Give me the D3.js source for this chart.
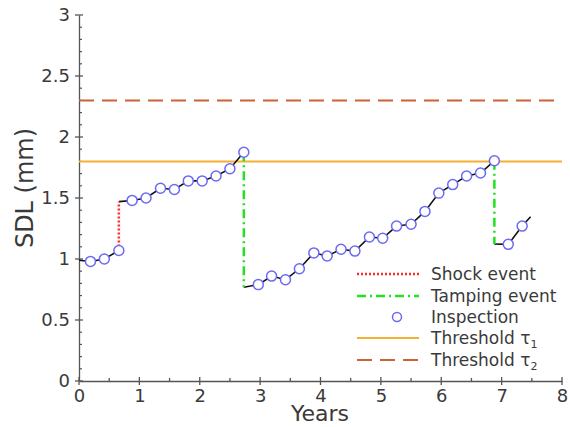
<!DOCTYPE html>
<html>
<head>
<meta charset="utf-8">
<script src="https://cdn.jsdelivr.net/npm/d3@7"></script>
<style>
  body { margin: 0; background: #fff; }
  text { font-family: "DejaVu Sans", Verdana, sans-serif; fill: #3a3a3a; }
</style>
</head>
<body>
<div class="chart-div"></div>
<script>
//--------------------------- Data

var inspYears = [0.19, 0.42, 0.66,
  0.88, 1.11, 1.35, 1.58, 1.81, 2.04, 2.27, 2.50, 2.73,
  2.97, 3.19, 3.42, 3.65, 3.89, 4.11, 4.34, 4.57, 4.81, 5.03, 5.26, 5.50,
  5.73, 5.96, 6.19, 6.42, 6.65, 6.88,
  7.11, 7.34];
var inspSDL = [0.98, 1.00, 1.07,
  1.48, 1.50, 1.58, 1.57, 1.64, 1.64, 1.68, 1.74, 1.875,
  0.79, 0.86, 0.83, 0.92, 1.05, 1.025, 1.08, 1.065, 1.18, 1.17, 1.27, 1.285,
  1.39, 1.54, 1.61, 1.68, 1.705, 1.805,
  1.12, 1.27];

// black degradation path, one piece per maintenance cycle
var pathYears = [
  [0, 0.19, 0.42, 0.66],
  [0.66, 0.88, 1.11, 1.35, 1.58, 1.81, 2.04, 2.27, 2.50, 2.73],
  [2.73, 2.97, 3.19, 3.42, 3.65, 3.89, 4.11, 4.34, 4.57, 4.81, 5.03, 5.26, 5.50, 5.73, 5.96, 6.19, 6.42, 6.65, 6.88],
  [6.88, 7.11, 7.34, 7.48]
];
var pathSDL = [
  [0.99, 0.98, 1.00, 1.07],
  [1.47, 1.48, 1.50, 1.58, 1.57, 1.64, 1.64, 1.68, 1.74, 1.875],
  [0.768, 0.79, 0.86, 0.83, 0.92, 1.05, 1.025, 1.08, 1.065, 1.18, 1.17, 1.27, 1.285, 1.39, 1.54, 1.61, 1.68, 1.705, 1.805],
  [1.123, 1.12, 1.27, 1.347]
];

var shockYear = 0.66, shockFrom = 1.07, shockTo = 1.47;
var tampYears = [2.73, 6.88];
var tampFrom = [1.875, 1.805];
var tampTo = [0.768, 1.123];

var tau1 = 1.8, tau2 = 2.3;

var xTicks = [0, 1, 2, 3, 4, 5, 6, 7, 8];
var yTicks = [0, 0.5, 1, 1.5, 2, 2.5, 3];

//--------------------------- SVG definition

var width = 570, height = 427;
var svg = d3.select("div.chart-div").append("svg")
  .attr("width", width).attr("height", height);

var x = d3.scaleLinear().domain([0, 8]).range([79, 562]);
var y = d3.scaleLinear().domain([0, 3]).range([381, 15]);

//--------------------------- Axes

var axisColor = "#555";

var xAxis = svg.append("g").attr("transform", "translate(0," + y(0) + ")");
xAxis.call(d3.axisBottom(x).tickValues(xTicks).tickSize(0).tickPadding(8).tickFormat(d3.format("d")));
xAxis.select(".domain").attr("stroke", axisColor).attr("stroke-width", 1.3);
xAxis.selectAll("text").style("font-size", "18px").attr("fill", "#3a3a3a");
// major ticks cross the axis, minor ticks sit inside
xAxis.selectAll(".maj").data(xTicks).enter().append("line")
  .attr("x1", d => x(d)).attr("x2", d => x(d)).attr("y1", -4).attr("y2", 4)
  .attr("stroke", axisColor).attr("stroke-width", 1.3);
xAxis.selectAll(".min").data(d3.range(0.5, 8, 1)).enter().append("line")
  .attr("x1", d => x(d)).attr("x2", d => x(d)).attr("y1", -3).attr("y2", 0)
  .attr("stroke", axisColor).attr("stroke-width", 1.3);

var yAxis = svg.append("g").attr("transform", "translate(" + x(0) + ",0)");
yAxis.call(d3.axisLeft(y).tickValues(yTicks).tickSize(0).tickPadding(9).tickFormat(d => d));
yAxis.select(".domain").attr("stroke", axisColor).attr("stroke-width", 1.3);
yAxis.selectAll("text").style("font-size", "18px").attr("fill", "#3a3a3a");
yAxis.selectAll(".maj").data(yTicks).enter().append("line")
  .attr("y1", d => y(d)).attr("y2", d => y(d)).attr("x1", -4).attr("x2", 4)
  .attr("stroke", axisColor).attr("stroke-width", 1.3);
var yMinor = d3.range(0, 30).map(i => i / 10).filter(v => Math.round(v * 10) % 5 !== 0);
yAxis.selectAll(".min").data(yMinor).enter().append("line")
  .attr("y1", d => y(d)).attr("y2", d => y(d)).attr("x1", 0).attr("x2", 3)
  .attr("stroke", axisColor).attr("stroke-width", 1.2);

svg.append("text").attr("x", 320).attr("y", 421).attr("text-anchor", "middle")
  .style("font-size", "22px").text("Years");
svg.append("text").attr("transform", "translate(33,188)rotate(-90)")
  .attr("text-anchor", "middle").style("font-size", "24px").text("SDL (mm)");

//--------------------------- Thresholds

var tau1Color = "#f5b031", tau2Color = "#cc6236";

svg.append("line").attr("x1", x(0)).attr("x2", x(8)).attr("y1", y(tau1)).attr("y2", y(tau1))
  .attr("stroke", tau1Color).attr("stroke-width", 2);
svg.append("line").attr("x1", x(0)).attr("x2", x(8)).attr("y1", y(tau2)).attr("y2", y(tau2))
  .attr("stroke", tau2Color).attr("stroke-width", 2).attr("stroke-dasharray", "15,8");

//--------------------------- Degradation path

var line = d3.line().x(d => x(d[0])).y(d => y(d[1]));
pathYears.forEach(function (ts, k) {
  svg.append("path")
    .attr("d", line(ts.map((t, i) => [t, pathSDL[k][i]])))
    .attr("fill", "none").attr("stroke", "#111").attr("stroke-width", 1.6);
});

// shock and tamping events
var shockColor = "#ff2a2a", tampColor = "#22e022";
svg.append("line").attr("x1", x(shockYear)).attr("x2", x(shockYear))
  .attr("y1", y(shockFrom)).attr("y2", y(shockTo))
  .attr("stroke", shockColor).attr("stroke-width", 2.5).attr("stroke-dasharray", "2,2");
svg.selectAll(".tamp").data(tampYears).enter().append("line")
  .attr("x1", d => x(d)).attr("x2", d => x(d))
  .attr("y1", (d, i) => y(tampFrom[i])).attr("y2", (d, i) => y(tampTo[i]))
  .attr("stroke", tampColor).attr("stroke-width", 2.5).attr("stroke-dasharray", "9,4,2,4");

// inspections
var inspColor = "#6a6af5";
svg.selectAll(".insp").data(inspYears).enter().append("circle")
  .attr("cx", d => x(d)).attr("cy", (d, i) => y(inspSDL[i])).attr("r", 5)
  .attr("fill", "#fff").attr("stroke", inspColor).attr("stroke-width", 1.5);

//--------------------------- Legend

var legend = svg.append("g");
var legRows = [274, 296, 317, 338, 360];
var lx1 = 357, lx2 = 419, tx = 431;

legend.append("line").attr("x1", lx1).attr("x2", lx2).attr("y1", legRows[0]).attr("y2", legRows[0])
  .attr("stroke", shockColor).attr("stroke-width", 2.5).attr("stroke-dasharray", "2,2");
legend.append("line").attr("x1", lx1).attr("x2", lx2).attr("y1", legRows[1]).attr("y2", legRows[1])
  .attr("stroke", tampColor).attr("stroke-width", 2.5).attr("stroke-dasharray", "9,4,2,4");
legend.append("circle").attr("cx", 397).attr("cy", legRows[2]).attr("r", 4.5)
  .attr("fill", "#fff").attr("stroke", inspColor).attr("stroke-width", 1.5);
legend.append("line").attr("x1", lx1).attr("x2", lx2).attr("y1", legRows[3]).attr("y2", legRows[3])
  .attr("stroke", tau1Color).attr("stroke-width", 2);
legend.append("line").attr("x1", lx1).attr("x2", lx2).attr("y1", legRows[4]).attr("y2", legRows[4])
  .attr("stroke", tau2Color).attr("stroke-width", 2).attr("stroke-dasharray", "15,8");

var legLabels = ["Shock event", "Tamping event", "Inspection", "Threshold \u03c4", "Threshold \u03c4"];
var legSubs = ["", "", "", "1", "2"];
legLabels.forEach(function (lab, i) {
  var t = legend.append("text").attr("x", tx).attr("y", legRows[i] + 6)
    .style("font-size", "17px").text(lab);
  if (legSubs[i]) {
    t.append("tspan").attr("dy", 4).style("font-size", "11px").text(legSubs[i]);
  }
});
</script>
</body>
</html>
